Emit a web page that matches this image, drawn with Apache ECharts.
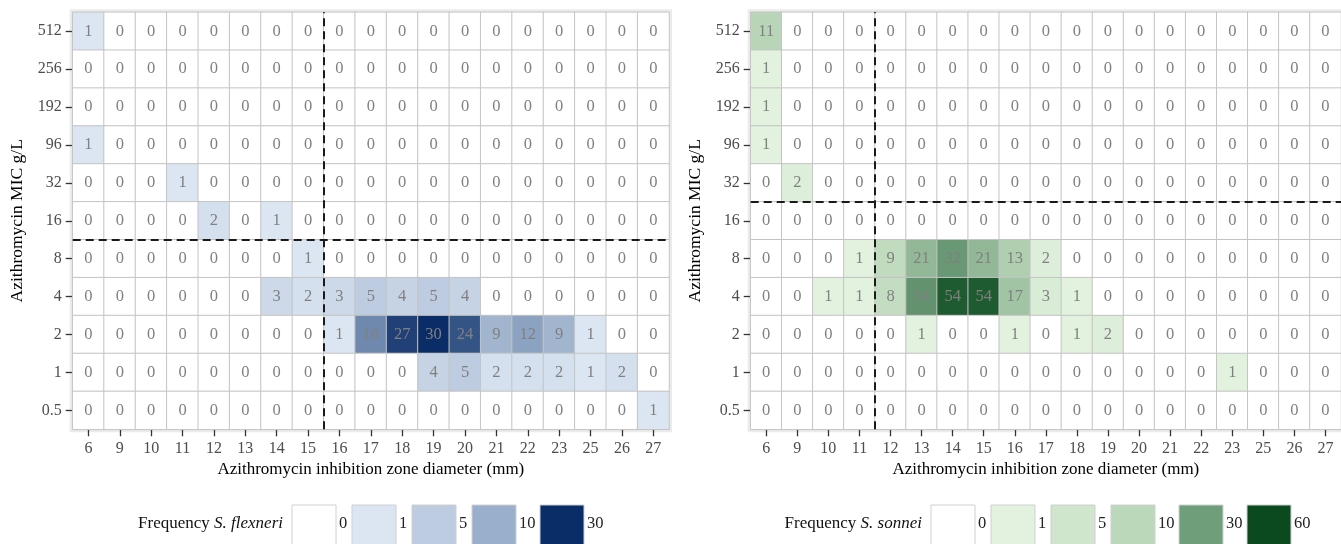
<!DOCTYPE html>
<html><head><meta charset="utf-8">
<script src="https://cdn.jsdelivr.net/npm/echarts@6/dist/echarts.min.js"></script>
<style>html,body{margin:0;padding:0;background:#fff}#chart{width:1341px;height:544px}</style>
</head><body><div id="chart"></div>
<script>
// ---------------- DATA ----------------
const xCategories = ['6','9','10','11','12','13','14','15','16','17','18','19','20','21','22','23','25','26','27'];
const yCategories = ['0.5','1','2','4','8','16','32','96','192','256','512'];
// rows listed from top (512) to bottom (0.5)
const flexneriRows = [
  [1,0,0,0,0,0,0,0,0,0,0,0,0,0,0,0,0,0,0],
  [0,0,0,0,0,0,0,0,0,0,0,0,0,0,0,0,0,0,0],
  [0,0,0,0,0,0,0,0,0,0,0,0,0,0,0,0,0,0,0],
  [1,0,0,0,0,0,0,0,0,0,0,0,0,0,0,0,0,0,0],
  [0,0,0,1,0,0,0,0,0,0,0,0,0,0,0,0,0,0,0],
  [0,0,0,0,2,0,1,0,0,0,0,0,0,0,0,0,0,0,0],
  [0,0,0,0,0,0,0,1,0,0,0,0,0,0,0,0,0,0,0],
  [0,0,0,0,0,0,3,2,3,5,4,5,4,0,0,0,0,0,0],
  [0,0,0,0,0,0,0,0,1,16,27,30,24,9,12,9,1,0,0],
  [0,0,0,0,0,0,0,0,0,0,0,4,5,2,2,2,1,2,0],
  [0,0,0,0,0,0,0,0,0,0,0,0,0,0,0,0,0,0,1]
];
const sonneiRows = [
  [11,0,0,0,0,0,0,0,0,0,0,0,0,0,0,0,0,0,0],
  [1,0,0,0,0,0,0,0,0,0,0,0,0,0,0,0,0,0,0],
  [1,0,0,0,0,0,0,0,0,0,0,0,0,0,0,0,0,0,0],
  [1,0,0,0,0,0,0,0,0,0,0,0,0,0,0,0,0,0,0],
  [0,2,0,0,0,0,0,0,0,0,0,0,0,0,0,0,0,0,0],
  [0,0,0,0,0,0,0,0,0,0,0,0,0,0,0,0,0,0,0],
  [0,0,0,1,9,21,32,21,13,2,0,0,0,0,0,0,0,0,0],
  [0,0,1,1,8,34,54,54,17,3,1,0,0,0,0,0,0,0,0],
  [0,0,0,0,0,1,0,0,1,0,1,2,0,0,0,0,0,0,0],
  [0,0,0,0,0,0,0,0,0,0,0,0,0,0,0,1,0,0,0],
  [0,0,0,0,0,0,0,0,0,0,0,0,0,0,0,0,0,0,0]
];
const flexneriStops = [0,1,5,10,30];
const flexneriColors = ['#FFFFFF','#DCE6F2','#BDCCE0','#9AAFCB','#0A2D68'];
const sonneiStops = [0,1,5,10,30,60];
const sonneiColors = ['#FFFFFF','#E2F2DF','#CFE5CC','#BCD8BB','#6F9E7A','#0A4A1E'];
// breakpoint lines lie between these neighbouring categories
const flexneriCutX = ['15','16'], flexneriCutY = ['8','16'];
const sonneiCutX = ['11','12'], sonneiCutY = ['16','32'];
const xTitle = 'Azithromycin inhibition zone diameter (mm)';
const yTitle = 'Azithromycin MIC g/L';

// ---------------- BUILD ----------------
const FONT = "'Liberation Serif','DejaVu Serif',serif";
function stopIndex(v, stops){
  for (let i=0;i<stops.length-1;i++){
    if (v<=stops[i+1]) return i + (v-stops[i])/(stops[i+1]-stops[i]);
  }
  return stops.length-1;
}
function buildData(rows, stops){
  const out=[];
  rows.forEach((row,r)=>{
    const yi = yCategories.length-1-r;
    row.forEach((v,c)=>out.push([c, yi, v, stopIndex(v,stops)]));
  });
  return out;
}
function mid(cats, pair){ return (cats.indexOf(pair[0])+cats.indexOf(pair[1]))/2; }

const grids = [
  {left:72.7, top:12.3, width:596.3, height:417},
  {left:750.7, top:12.3, width:590.3, height:417}
];
const xAxes=[], yAxes=[], series=[], visualMaps=[];
const panels = [
  {rows:flexneriRows, stops:flexneriStops, colors:flexneriColors, cx:flexneriCutX, cy:flexneriCutY},
  {rows:sonneiRows, stops:sonneiStops, colors:sonneiColors, cx:sonneiCutX, cy:sonneiCutY}
];
const hiddenLine = {show:true, onZero:false, lineStyle:{color:'rgba(0,0,0,0)', width:1}};
const tickStyle = {show:true, alignWithLabel:true, inside:false, length:7, lineStyle:{color:'#333333', width:1.3}};
panels.forEach((p,gi)=>{
  const xi = xAxes.length, yi = yAxes.length;
  xAxes.push({
    type:'category', gridIndex:gi, data:xCategories, position:'bottom', z:1,
    axisLine:hiddenLine,
    axisTick:tickStyle,
    axisLabel:{color:'#4D4D4D', fontSize:16, fontFamily:FONT, margin:11},
    splitLine:{show:false},
    name:xTitle, nameLocation:'middle', nameGap:31,
    nameTextStyle:{color:'#000', fontSize:17, fontFamily:FONT}
  });
  xAxes.push({type:'value', gridIndex:gi, min:-0.5, max:xCategories.length-0.5, show:false});
  yAxes.push({
    type:'category', gridIndex:gi, data:yCategories, position:'left', z:1,
    axisLine:hiddenLine,
    axisTick:tickStyle,
    axisLabel:{color:'#4D4D4D', fontSize:16, fontFamily:FONT, margin:11},
    splitLine:{show:false},
    name:yTitle, nameLocation:'middle', nameGap:46,
    nameTextStyle:{color:'#000', fontSize:17.5, fontFamily:FONT}
  });
  yAxes.push({type:'value', gridIndex:gi, min:-0.5, max:yCategories.length-0.5, show:false});
  const sIdx = series.length;
  series.push({
    type:'heatmap', xAxisIndex:xi, yAxisIndex:yi,
    data:buildData(p.rows, p.stops),
    itemStyle:{borderColor:'#C4C4C4', borderWidth:1},
    label:{show:true, formatter:(prm)=>String(prm.value[2]), color:'#808080', fontSize:16.5, fontFamily:FONT},
    emphasis:{disabled:true}, silent:true
  });
  visualMaps.push({type:'continuous', show:false, seriesIndex:sIdx, dimension:3,
    min:0, max:p.stops.length-1, inRange:{color:p.colors}});
  const cx = mid(xCategories, p.cx), cy = mid(yCategories, p.cy);
  series.push({
    type:'line', xAxisIndex:xi+1, yAxisIndex:yi+1, data:[[cx,cy]], symbolSize:0, silent:true,
    lineStyle:{opacity:0},
    markLine:{silent:true, symbol:'none', label:{show:false},
      lineStyle:{color:'#1a1a1a', type:[8,5], width:2},
      data:[{xAxis:cx},{yAxis:cy}]}
  });
});

// legends (graphic)
function legend(startX, species, stops, colors){
  const els=[];
  const boxW=44, boxH=44, top=505;
  let x = startX;
  els.push({type:'text', x:startX-9, y:524, style:{
    text:'{a|Frequency }{b|'+species+'}', align:'right', verticalAlign:'middle',
    rich:{a:{fontSize:17, fontFamily:FONT, fill:'#111'}, b:{fontSize:17, fontFamily:FONT, fontStyle:'italic', fill:'#111'}}
  }, silent:true});
  stops.forEach((s,i)=>{
    els.push({type:'rect', shape:{x:x, y:top, width:boxW, height:boxH},
      style:{fill:colors[i], stroke:'#D0D0D0', lineWidth:1}, silent:true});
    const lab = String(s);
    els.push({type:'text', x:x+boxW+3, y:524, style:{text:lab, fontSize:16.5, fontFamily:FONT, fill:'#222',
      align:'left', verticalAlign:'middle'}, silent:true});
    x = x + boxW + 3 + lab.length*8 + 5;
  });
  return els;
}
const graphics = [].concat(
  legend(292, 'S. flexneri', flexneriStops, flexneriColors),
  legend(931, 'S. sonnei', sonneiStops, sonneiColors)
);

const chart = echarts.init(document.getElementById('chart'), null, {renderer:'canvas'});
chart.setOption({
  animation:false,
  backgroundColor:'#fff',
  grid: grids.map(g=>Object.assign({show:true, backgroundColor:'#fff', borderColor:'#EBEBEB', borderWidth:6}, g)),
  xAxis:xAxes, yAxis:yAxes, visualMap:visualMaps, series:series, graphic:graphics
});
</script></body></html>
